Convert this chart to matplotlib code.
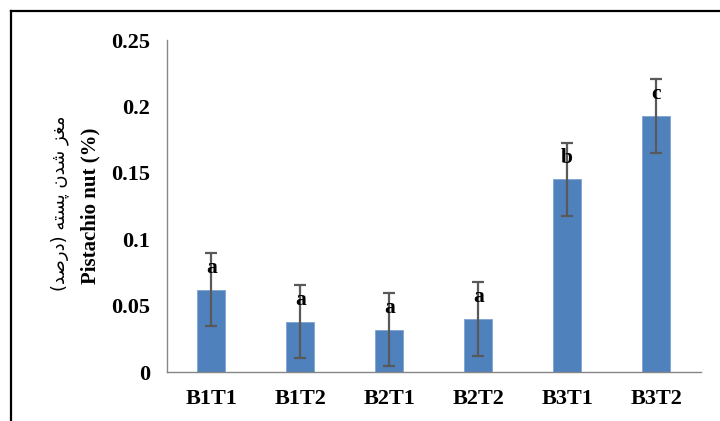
import matplotlib
matplotlib.use("Agg")
import matplotlib.pyplot as plt
from matplotlib.lines import Line2D

categories = ["B1T1", "B1T2", "B2T1", "B2T2", "B3T1", "B3T2"]
values = [0.062, 0.038, 0.032, 0.040, 0.145, 0.193]
errors = [0.0275, 0.0275, 0.0278, 0.0278, 0.0275, 0.0278]
letters = ["a", "a", "a", "a", "b", "c"]
yticks = [0, 0.05, 0.1, 0.15, 0.2, 0.25]
ytick_labels = ["0", "0.05", "0.1", "0.15", "0.2", "0.25"]
ylabel_en = "Pistachio nut (%)"
# Persian label "مغز شدن پسته (درصد)" pre-shaped into presentation forms (visual order)
ylabel_fa = ("(" + "\uFEAA\uFEBB\uFEAD\uFEA9" + ")" + " "
             + "\uFEEA\uFE98\uFEB4\uFB58" + " "
             + "\uFEE5\uFEAA\uFEB7" + " "
             + "\uFEB0\uFED0\uFEE3")

serif = ["Liberation Serif", "DejaVu Serif"]

fig = plt.figure(figsize=(7.2, 4.21), dpi=100)
ax = fig.add_axes([166.7 / 720, 1 - 372 / 421, (700.7 - 166.7) / 720, (372 - 40) / 421])

x = list(range(len(categories)))
ax.bar(x, values, width=0.31, color="#4F81BD", edgecolor="#7fa3d3", linewidth=0.6, zorder=2)
ax.errorbar(x, values, yerr=errors, fmt="none", ecolor="#595959", elinewidth=1.6,
            capsize=4.5, capthick=1.6, zorder=3)
for xi, v, lab in zip(x, values, letters):
    ax.text(xi, v + 0.0165, lab, ha="center", va="center", fontsize=15.5,
            fontweight="bold", family=serif, zorder=4)

ax.set_xlim(-0.5, len(categories) - 0.5)
ax.set_ylim(0, 0.25)
ax.set_yticks(yticks)
ax.set_yticklabels(ytick_labels)
ax.set_xticks(x)
ax.set_xticklabels(categories)
for lbl in ax.get_xticklabels() + ax.get_yticklabels():
    lbl.set_fontfamily(serif)
    lbl.set_fontweight("bold")
    lbl.set_fontsize(16)
ax.tick_params(axis="both", length=0)
ax.tick_params(axis="y", pad=12)
ax.tick_params(axis="x", pad=12)
for s in ["top", "right"]:
    ax.spines[s].set_visible(False)
for s in ["left", "bottom"]:
    ax.spines[s].set_color("#868686")
    ax.spines[s].set_linewidth(1.0)

fig.text(90 / 720, 1 - 206 / 421, ylabel_en, rotation=90, ha="center", va="center",
         fontsize=15, fontweight="bold", family=serif)
fig.text(60 / 720, 1 - 203 / 421, ylabel_fa, rotation=90, ha="center", va="center",
         fontsize=13, family=["DejaVu Sans"])

# outer frame (top and left edges visible)
fig.add_artist(Line2D([11 / 720, 11 / 720], [0, 1 - 11 / 421], transform=fig.transFigure,
                      color="black", linewidth=1.6))
fig.add_artist(Line2D([11 / 720, 1], [1 - 11 / 421, 1 - 11 / 421], transform=fig.transFigure,
                      color="black", linewidth=1.6))

fig.savefig("out.png", dpi=100)
